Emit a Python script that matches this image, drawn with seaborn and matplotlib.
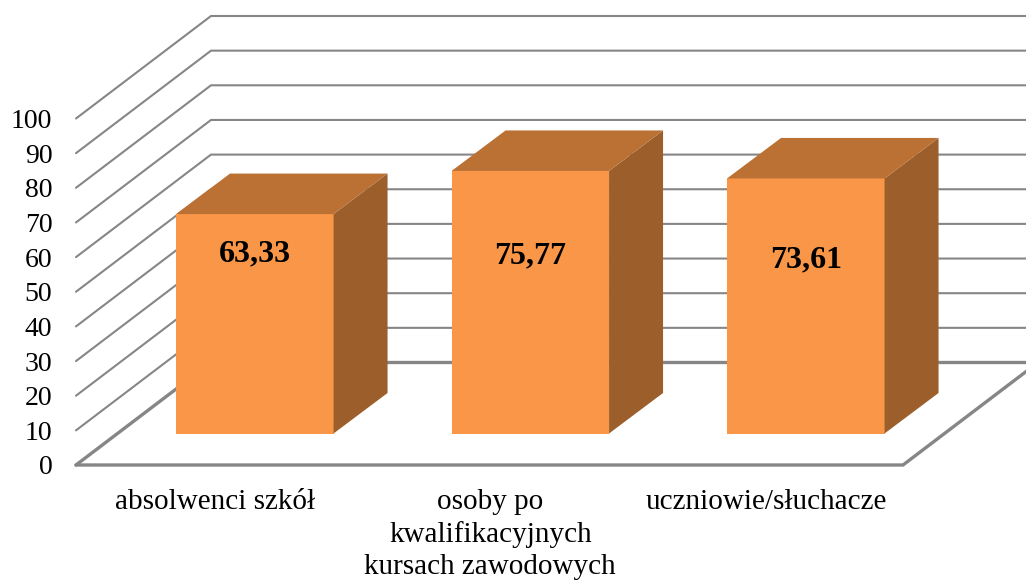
# Recreated 3D style bar chart
import numpy as np
import pandas as pd
import matplotlib
matplotlib.use("Agg")
import matplotlib.pyplot as plt
import seaborn as sns

categories = ["absolwenci szkół", "osoby po", "uczniowie/słuchacze"]
tick_labels = ["absolwenci szkół",
               "osoby po\nkwalifikacyjnych\nkursach zawodowych",
               "uczniowie/słuchacze"]
values = [63.33, 75.77, 73.61]
value_labels = ["63,33", "75,77", "73,61"]
y_ticks = list(range(0, 101, 10))

# scale of the picture, pixels per unit
PX_X = 275.5
PX_Y = 3.465
W, H = 1026, 581

# depth of the chart box and of the bars, converted to data units
wall_dx = 135 / PX_X
wall_dy = 102.5 / PX_Y
bar_dx = 54 / PX_X
bar_dy = 40.5 / PX_Y
bar_base = 31.5 / PX_Y
floor_end = (903 - 254.8) / PX_X

sns.set_theme(style="white")
plt.rcParams['font.family'] = ['Liberation Serif', 'DejaVu Serif']

fig = plt.figure(figsize=(W / 100, H / 100), dpi=100)
ax = fig.add_axes([76 / W, (H - 465) / H, (W - 76) / W, 465 / H])
ax.patch.set_alpha(0)

df = pd.DataFrame({"kategoria": categories, "wartosc": values})
sns.barplot(data=df, x="kategoria", y="wartosc", width=157.5 / PX_X,
            color="#F99647", saturation=1, bottom=bar_base, zorder=3,
            linewidth=0, edgecolor="none", ax=ax)

x0 = (76 - 254.8) / PX_X
x1 = (W - 254.8) / PX_X
ax.set_xlim(x0, x1)
ax.set_ylim(0, 465 / PX_Y)

# back wall gridlines and the left side wall
grid = "#868686"
for v in y_ticks:
    lw = 2.4 if v == 0 else 1.5
    ax.plot([x0, x0 + wall_dx, x1], [v, v + wall_dy, v + wall_dy],
            color=grid, lw=lw, zorder=1, solid_joinstyle="miter", clip_on=False)

# front and right floor edges
ax.plot([x0, floor_end, floor_end + wall_dx], [0, 0, wall_dy],
        color=grid, lw=2.4, zorder=2, solid_joinstyle="miter", clip_on=False)

# side and top faces of the bars, taken from the drawn bars
for bar, text, offset in zip(ax.patches, value_labels, [40, 85, 81]):
    left, right = bar.get_x(), bar.get_x() + bar.get_width()
    low, top = bar.get_y(), bar.get_y() + bar.get_height()
    ax.fill([right, right + bar_dx, right + bar_dx, right],
            [low, low + bar_dy, top + bar_dy, top],
            color="#9C5F2C", lw=0, zorder=3)
    ax.fill([left, left + bar_dx, right + bar_dx, right],
            [top, top + bar_dy, top + bar_dy, top],
            color="#BB7133", lw=0, zorder=3)
    ax.text((left + right) / 2, top - offset / PX_Y, text, ha="center", va="center",
            fontsize=23, fontweight="bold", color="black", zorder=4)

ax.set_xticks(np.arange(len(categories)) - 40 / PX_X)
ax.set_xticklabels(tick_labels, fontsize=21, color="black", linespacing=1.3)
ax.set_yticks(y_ticks)
ax.set_yticklabels(y_ticks, fontsize=20, color="black")
ax.tick_params(axis="x", length=0, pad=17)
ax.tick_params(axis="y", length=0, pad=17)
ax.set_xlabel("")
ax.set_ylabel("")
sns.despine(ax=ax, left=True, bottom=True)

fig.savefig("out.png", dpi=100)
